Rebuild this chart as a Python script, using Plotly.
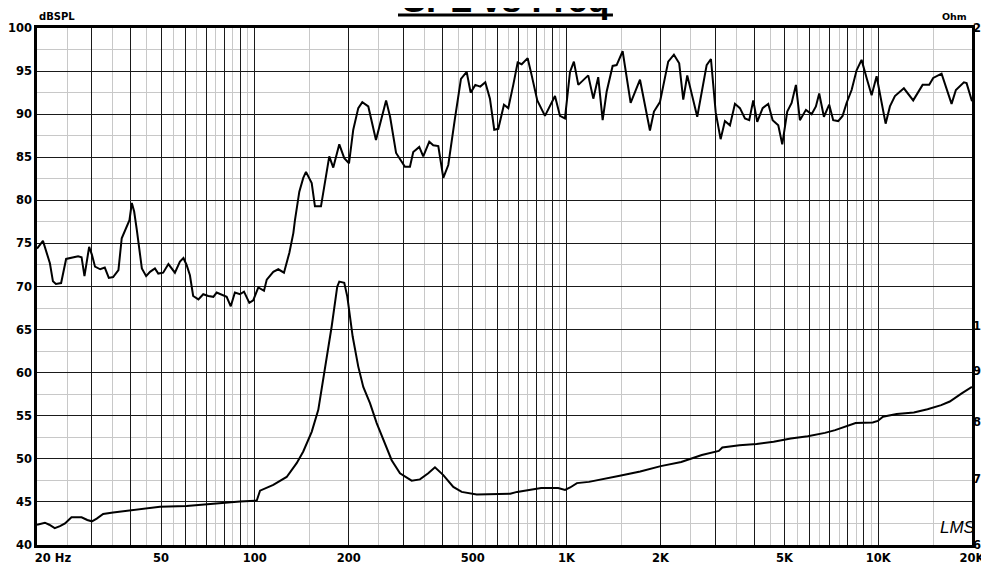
import plotly.graph_objects as go

# ---------------- data ----------------
spl_freq = [20, 20.9, 22.0, 22.5, 23.0, 23.9, 24.8, 25.8, 27.1, 27.8, 28.4, 29.4, 30.0, 30.7,
            31.9, 33.0, 34.0, 35.1, 36.5, 37.4, 38.8, 39.6, 40.3, 41.0, 41.8, 43.4, 44.8, 46.1,
            47.8, 49.0, 50.8, 52.8, 55.4, 57.5, 59.0, 60.4, 61.9, 63.4, 65.9, 68.3, 70.9, 73.6,
            75.4, 78.3, 81.2, 83.7, 86.3, 89.6, 92.3, 96.0, 98.8, 102.6, 107.0, 109.2, 114.6,
            118.9, 124.0, 129.0, 132.9, 134.5, 138.9, 143.0, 145.9, 152.2, 155.9, 163.0, 173.3,
            178.5, 186.6, 193.6, 200.5, 206.9, 214.7, 221.2, 231.2, 244.7, 263.7, 271.6, 283.9,
            303.1, 314.5, 322.3, 336.9, 347.0, 362.8, 373.6, 387.8, 402.4, 417.5, 438.6, 458.5,
            478.3, 492.6, 509.7, 528.8, 548.7, 568.0, 586.3, 604.0, 629.9, 650.4, 674.8, 697.1,
            718.1, 750.6, 773.1, 805.8, 852.8, 884.9, 918.3, 952.8, 988.6, 1026, 1056, 1091,
            1132, 1174, 1219, 1264, 1306, 1345, 1406, 1448, 1514, 1606, 1721, 1852, 1908, 1994,
            2120, 2211, 2299, 2369, 2440, 2627, 2816, 2907, 3011, 3122, 3223, 3345, 3471, 3601,
            3737, 3857, 3973, 4092, 4259, 4439, 4586, 4780, 4923, 5108, 5276, 5446, 5609, 5864,
            6115, 6312, 6468, 6697, 6965, 7173, 7443, 7688, 7918, 8218, 8526, 8846, 9180, 9527,
            9885, 10181, 10566, 10907, 11316, 12092, 12953, 13885, 14579, 15016, 15973, 17198,
            17754, 18836, 19213, 20000]
spl_db = [74.4, 75.3, 72.7, 70.6, 70.3, 70.4, 73.2, 73.3, 73.5, 73.4, 71.2, 74.6, 73.7, 72.3,
          72.0, 72.2, 71.0, 71.1, 71.9, 75.6, 76.9, 77.7, 79.7, 78.7, 76.6, 72.1, 71.2, 71.7,
          72.1, 71.5, 71.6, 72.6, 71.6, 72.9, 73.3, 72.5, 71.3, 68.9, 68.5, 69.1, 68.9, 68.8,
          69.3, 69.0, 68.8, 67.7, 69.3, 69.1, 69.4, 68.1, 68.4, 69.9, 69.5, 70.8, 71.7,
          72.0, 71.6, 73.9, 76.2, 77.7, 81.0, 82.6, 83.3, 82.0, 79.3, 79.3, 85.1,
          83.8, 86.5, 84.9, 84.3, 88.2, 90.7, 91.4, 90.9, 87.0, 91.6, 89.7, 85.5,
          83.9, 83.9, 85.6, 86.2, 85.1, 86.8, 86.4, 86.3, 82.6, 84.1, 89.5, 94.1,
          94.9, 92.5, 93.4, 93.2, 93.7, 91.8, 88.2, 88.3, 91.1, 90.7, 93.4, 96.0,
          95.8, 96.5, 94.5, 91.6, 89.8, 90.9, 92.1, 89.8, 89.5, 94.9, 96.1, 93.4,
          94.0, 94.5, 91.8, 94.3, 89.3, 92.6, 95.6, 95.7, 97.3, 91.3, 94.0, 88.1, 90.3, 91.4,
          96.1, 96.9, 95.9, 91.7, 94.5, 89.7, 95.7, 96.4, 90.2, 87.1, 89.2, 88.7, 91.2, 90.7,
          89.5, 89.3, 91.6, 89.1, 90.7, 91.2, 89.3, 88.7, 86.5, 90.3, 91.3, 93.4, 89.3, 90.5,
          90.0, 90.9, 92.4, 89.7, 91.1, 89.3, 89.2, 89.8, 91.3, 92.8, 95.1, 96.3, 94.2, 92.2,
          94.4, 92.0, 88.9, 90.9, 92.1, 93.0, 91.6, 93.4, 93.4, 94.2, 94.7, 91.2,
          92.8, 93.7, 93.6, 91.5]

imp_freq = [20, 21.2, 21.9, 22.8, 23.7, 24.6, 25.8, 27.8, 29.0, 30.0, 31.1, 32.6, 35.1, 40.7,
            49.6, 60.4, 70.1, 81.2, 89.6, 100.1, 101.5, 103.9, 114.6, 126.5, 136.2, 143.0,
            152.2, 159.8, 165.0, 170.0, 176.4, 183.8, 186.6, 193.6, 198.0, 206.0, 214.7, 222.8,
            234.1, 246.0, 261.6, 274.8, 292.2, 318.5, 338.6, 360.1, 378.4, 402.4, 433.3, 460.9,
            515, 660, 694, 768, 829, 940, 989, 1027, 1080, 1180, 1306, 1482, 1724, 2006, 2334,
            2519, 2717, 3081, 3162, 3588, 4071, 4619, 5241, 5946, 6747, 7276, 7852, 8465, 9603,
            9971, 10362, 11466, 13014, 14396, 15930, 16971, 18536, 19491, 20000]
imp_ohm = [6.29, 6.32, 6.29, 6.24, 6.27, 6.31, 6.40, 6.40, 6.36, 6.34, 6.38, 6.45, 6.47, 6.51,
           6.56, 6.57, 6.60, 6.62, 6.64, 6.65, 6.66, 6.81, 6.90, 7.03, 7.26, 7.46,
           7.81, 8.22, 8.74, 9.23, 9.98, 10.95, 11.08, 11.05, 10.70, 9.75, 9.09, 8.67,
           8.35, 7.97, 7.60, 7.31, 7.09, 6.97, 6.99, 7.09, 7.19, 7.06, 6.87, 6.79,
           6.75, 6.76, 6.79, 6.82, 6.85, 6.85, 6.82, 6.86, 6.93, 6.95, 6.99, 7.05, 7.12, 7.21, 7.28,
           7.34, 7.40, 7.47, 7.53, 7.57, 7.59, 7.63, 7.69, 7.73, 7.79, 7.84, 7.90, 7.97, 7.98,
           8.01, 8.09, 8.14, 8.17, 8.23, 8.31, 8.38, 8.54, 8.62, 8.67]

x_tick_vals = [20, 50, 100, 200, 500, 1000, 2000, 5000, 10000, 20000]
x_tick_text = ["\u00a0" * 8 + "20 Hz", "50", "100", "200", "500", "1K", "2K", "5K", "10K", "20K"]
y_tick_vals = [40, 45, 50, 55, 60, 65, 70, 75, 80, 85, 90, 95, 100]
y2_tick_vals = [6, 7, 8, 9, 10, 20]
y2_tick_text = ["6", "7", "8", "9", "10", "20"]

# grid positions: dark at 1..9 x decade, light midway between them
decades = [10, 100, 1000, 10000]
dark_grid = [m * d for d in decades for m in range(1, 10) if 20 <= m * d <= 20000]
light_grid = [(m + 0.5) * d for d in decades for m in range(1, 10) if 20 < (m + 0.5) * d < 20000]
all_dark = sorted(set(dark_grid + [20000]))
dark_text = [x_tick_text[x_tick_vals.index(v)] if v in x_tick_vals else "" for v in all_dark]

TICKFONT = dict(family="DejaVu Sans", size=11.5, color="black", weight="bold")

fig = go.Figure()
fig.add_trace(go.Scatter(x=spl_freq, y=spl_db, mode="lines",
                         line=dict(color="black", width=2), yaxis="y", showlegend=False))
fig.add_trace(go.Scatter(x=imp_freq, y=imp_ohm, mode="lines",
                         line=dict(color="black", width=2), yaxis="y2", showlegend=False))

# the page body has an 8px default margin, so the figure is sized/margined to compensate
fig.update_layout(
    width=981, height=557,
    margin=dict(l=29, r=17, t=20, b=20, autoexpand=False),
    paper_bgcolor="white", plot_bgcolor="white",
    xaxis=dict(type="log", range=[1.30103, 4.30103], tickmode="array",
               tickvals=all_dark, ticktext=dark_text, ticks="", showgrid=True,
               gridcolor="#1a1a1a", gridwidth=1, zeroline=False,
               minor=dict(tickmode="array", tickvals=light_grid, showgrid=True,
                          gridcolor="#c8c8c8", gridwidth=1, ticks=""),
               showline=True, linecolor="black", linewidth=2.5, mirror=True,
               tickfont=TICKFONT, automargin=False, ticklabeloverflow="allow"),
    yaxis=dict(range=[40, 100], tickmode="array", tickvals=y_tick_vals, ticks="",
               showgrid=True, gridcolor="#1a1a1a", gridwidth=1, zeroline=False,
               minor=dict(dtick=2.5, showgrid=True, gridcolor="#c8c8c8", gridwidth=1, ticks=""),
               showline=True, linecolor="black", linewidth=2.5, mirror=True,
               tickfont=TICKFONT, automargin=False, ticklabeloverflow="allow"),
    yaxis2=dict(type="log", range=[0.778151, 1.30103], overlaying="y", side="right",
                tickmode="array", tickvals=y2_tick_vals, ticktext=y2_tick_text, ticks="",
                showgrid=False, zeroline=False, showline=False,
                tickfont=TICKFONT, automargin=False, ticklabeloverflow="allow"),
    annotations=[
        dict(text="SPL vs Freq", xref="paper", yref="paper", x=0.501, y=1.055,
             xanchor="center", yanchor="middle", showarrow=False,
             font=dict(family="Liberation Sans, Arial", size=36, color="black", weight="bold")),
        dict(text="dBSPL", xref="paper", yref="paper", x=0.0214, y=1.0213,
             xanchor="center", yanchor="middle", showarrow=False,
             font=dict(family="DejaVu Sans", size=10, color="black", weight="bold")),
        dict(text="Ohm", xref="paper", yref="paper", x=0.9818, y=1.0213,
             xanchor="center", yanchor="middle", showarrow=False,
             font=dict(family="DejaVu Sans", size=9.5, color="black", weight="bold")),
        dict(text="<i>LMS</i>", xref="paper", yref="paper", x=0.985, y=0.0329,
             xanchor="center", yanchor="middle", showarrow=False,
             font=dict(family="Liberation Sans", size=17, color="black")),
    ],
    shapes=[
        dict(type="line", xref="paper", yref="paper", x0=0.3861, x1=0.6160,
             y0=1.0251, y1=1.0251, line=dict(color="black", width=3)),
    ],
)

fig.write_html("out.html", config={"displayModeBar": False})
